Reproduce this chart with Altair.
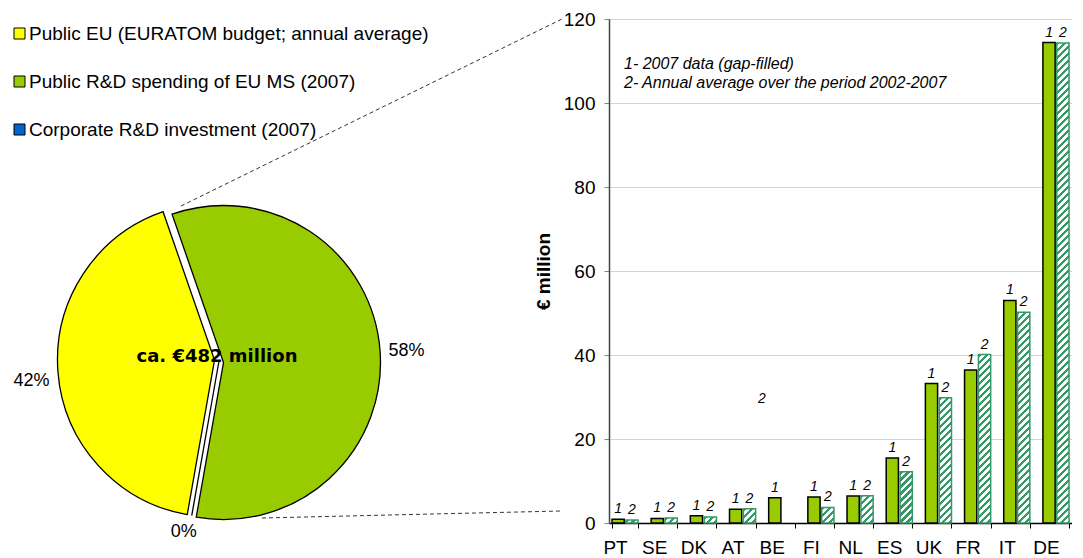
import math
import altair as alt
import pandas as pd

# ---------------- data ----------------
countries = ["PT", "SE", "DK", "AT", "BE", "FI", "NL", "ES", "UK", "FR", "IT", "DE"]
data_2007 = [0.9, 1.1, 1.7, 3.3, 6.0, 6.2, 6.4, 15.5, 33.2, 36.4, 53.0, 114.4]
avg_2002_2007 = [0.7, 1.2, 1.4, 3.4, None, 3.7, 6.5, 12.2, 29.8, 40.1, 50.2, 114.3]
series_names = ["1", "2"]
stray_country = ["BE"]
stray_value = [29.6]
stray_text = ["2"]

pie_labels = [
    "Public EU (EURATOM budget; annual average)",
    "Public R&D spending of EU MS (2007)",
    "Corporate R&D investment (2007)",
]
pie_values = [202, 280, 0]
pie_colors = ["#FFFF00", "#99CC00", "#0066CC"]

notes = ["1- 2007 data (gap-filled)", "2- Annual average over the period 2002-2007"]
y_ticks = [0, 20, 40, 60, 80, 100, 120]
y_title = "€ million"

# ---------------- layout / style ----------------
PLOT_W, PLOT_H, Y_MAX = 463, 504, 120
X_PAD_IN, X_PAD_OUT, OFF_PAD_IN = 1 / 3, 0.076, 0.12
FONT = "Liberation Sans"
GREEN = "#99CC00"
HATCH = "#339966"

step = PLOT_W / (len(countries) - X_PAD_IN + 2 * X_PAD_OUT)
band = step * (1 - X_PAD_IN)
bar_w = band / (2 - OFF_PAD_IN) * (1 - OFF_PAD_IN)
px_per_unit = PLOT_H / Y_MAX

rows = []
for c, v1, v2 in zip(countries, data_2007, avg_2002_2007):
    if v1 is not None:
        rows.append({"country": c, "series": series_names[0], "value": v1})
    if v2 is not None:
        rows.append({"country": c, "series": series_names[1], "value": v2})
bars = pd.DataFrame(rows)
stray = pd.DataFrame({"country": stray_country, "series": ["1"], "value": stray_value, "text": stray_text})
pie = pd.DataFrame({"label": pie_labels, "value": pie_values, "order": list(range(len(pie_labels)))})
total = sum(pie_values)
one = pd.DataFrame({"k": [0]})


def stripe_gradient(h, w, period=7.0, frac=0.45, color=HATCH):
    h = max(h, 0.5)
    c = (1 / h + 1 / w) / (1 / h ** 2 + 1 / w ** 2)
    n = (w + h) / period
    stops = []
    k = 0
    while k / n < 1:
        a, b, e = k / n, (k + frac) / n, (k + 1) / n
        stops.append({"offset": round(min(a, 1), 5), "color": color})
        stops.append({"offset": round(min(b, 1), 5), "color": color})
        if b < 1:
            stops.append({"offset": round(b, 5), "color": "white"})
            stops.append({"offset": round(min(e, 1), 5), "color": "white"})
        k += 1
    return {"gradient": "linear", "x1": 0, "y1": 0, "x2": c / h, "y2": c / w, "stops": stops}


x_enc = alt.X(
    "country:N",
    sort=countries,
    scale=alt.Scale(domain=countries, paddingInner=X_PAD_IN, paddingOuter=X_PAD_OUT),
    axis=alt.Axis(
        title=None, labelAngle=0, labelFontSize=19, labelFont=FONT, labelColor="black",
        labelPadding=10, labelOffset=-10, tickSize=5, tickColor="black", tickBand="extent",
        domainColor="black", domainWidth=1.5, grid=False,
    ),
)
xo_enc = alt.XOffset("series:N", scale=alt.Scale(domain=series_names, paddingInner=OFF_PAD_IN, paddingOuter=0))
y_enc = alt.Y(
    "value:Q",
    stack=None,
    scale=alt.Scale(domain=[0, Y_MAX], nice=False),
    axis=alt.Axis(
        values=y_ticks, title=y_title, titleFont=FONT, titleFontSize=19, titleFontWeight="bold",
        titleColor="black", titlePadding=10, labelFont=FONT, labelFontSize=19, labelColor="black",
        labelPadding=9, tickSize=5, tickColor="#888888", domainColor="#444444", domainWidth=1.5,
        gridColor="#d4d4d4", gridWidth=1,
    ),
)

# ---------------- bar chart ----------------
bars1 = alt.Chart(bars).transform_filter(alt.datum.series == series_names[0]).mark_bar(
    fill=GREEN, stroke="black", strokeWidth=1.5
).encode(x=x_enc, xOffset=xo_enc, y=y_enc)

bars2_layers = []
for c, v in zip(countries, avg_2002_2007):
    if v is None:
        continue
    g = stripe_gradient(v * px_per_unit, bar_w)
    bars2_layers.append(
        alt.Chart(bars)
        .transform_filter((alt.datum.series == series_names[1]) & (alt.datum.country == c))
        .mark_bar(fill=g, stroke=HATCH, strokeWidth=1.5)
        .encode(x=x_enc, xOffset=xo_enc, y=y_enc)
    )

bar_labels = alt.Chart(bars).mark_text(
    dy=-6, baseline="alphabetic", fontStyle="italic", fontSize=14, font=FONT, color="black"
).encode(x=x_enc, xOffset=xo_enc, y=y_enc, text="series:N")

stray_lbl = alt.Chart(stray).mark_text(
    dx=-13, baseline="middle", fontStyle="italic", fontSize=14, font=FONT, color="black"
).encode(x=x_enc, xOffset=xo_enc, y=y_enc, text="text:N")

note_txt = alt.Chart(one).mark_text(
    align="left", baseline="middle", fontStyle="italic", fontSize=16, font=FONT, color="black", lineHeight=19
).encode(x=alt.value(15), y=alt.value(45), text=alt.value(notes))

# ---------------- pie ----------------
theta_start = math.radians(190)
theta_scale = alt.Scale(domain=[0, total], range=[theta_start, theta_start + 2 * math.pi])
color_enc = alt.Color(
    "label:N",
    scale=alt.Scale(domain=pie_labels, range=pie_colors),
    legend=alt.Legend(
        title=None, orient="none", legendX=-599, legendY=5, direction="vertical",
        symbolType="square", symbolSize=121, symbolStrokeColor="black", symbolStrokeWidth=1,
        labelFont=FONT, labelFontSize=19, labelColor="black", rowPadding=28, labelOffset=0, labelLimit=0,
    ),
)

pie_base = (
    alt.Chart(pie)
    .transform_window(cum="sum(value)", sort=[alt.SortField("order")], frame=[None, 0])
    .transform_joinaggregate(total="sum(value)")
    .transform_calculate(
        start="datum.cum - datum.value",
        end="datum.cum",
        mid="datum.cum - datum.value / 2",
        pct="format(datum.value / datum.total, '.0%')",
    )
)

R = 157
cx, cy = -390, 342
explode = [(-4.5, -1), (4.5, 1.5), (0, 0)]
arcs = []
for lab, (ex, ey) in zip(pie_labels, explode):
    arcs.append(
        pie_base.transform_filter(alt.datum.label == lab)
        .mark_arc(radius=R, stroke="black", strokeWidth=1.3)
        .encode(
            theta=alt.Theta("start:Q", scale=theta_scale),
            theta2="end:Q",
            color=color_enc,
            x=alt.value(cx + ex),
            y=alt.value(cy + ey),
        )
    )

pct_main = pie_base.transform_filter(alt.datum.value > 0).mark_text(
    radius=188, dy=5, fontSize=18, font=FONT, color="black"
).encode(theta=alt.Theta("mid:Q", scale=theta_scale), text="pct:N", x=alt.value(cx), y=alt.value(cy))
pct_zero = pie_base.transform_filter(alt.datum.value == 0).mark_text(
    radius=174, dx=-5, fontSize=18, font=FONT, color="black"
).encode(theta=alt.Theta("mid:Q", scale=theta_scale), text="pct:N", x=alt.value(cx), y=alt.value(cy))

center_txt = alt.Chart(one).mark_text(
    fontSize=18, font="DejaVu Sans", fontWeight="bold", color="black", baseline="middle"
).encode(x=alt.value(cx - 2), y=alt.value(cy - 4), text=alt.value(f"ca. €{total} million"))

dash_top = alt.Chart(one).mark_rule(strokeDash=[4, 3], color="#333333", strokeWidth=1).encode(
    x=alt.value(-428), y=alt.value(187), x2=alt.value(-45), y2=alt.value(-1)
)
dash_bot = alt.Chart(one).mark_rule(strokeDash=[4, 3], color="#333333", strokeWidth=1).encode(
    x=alt.value(-347), y=alt.value(499), x2=alt.value(-48), y2=alt.value(492)
)

chart = (
    alt.layer(
        bars1, *bars2_layers, bar_labels, stray_lbl, note_txt,
        *arcs, pct_main, pct_zero, center_txt, dash_top, dash_bot,
    )
    .properties(width=PLOT_W, height=PLOT_H, padding={"left": 2, "top": 2, "right": 0, "bottom": 0})
    .configure_view(stroke=None)
)

chart.save("out.html", embed_options={"renderer": "svg", "actions": False})
